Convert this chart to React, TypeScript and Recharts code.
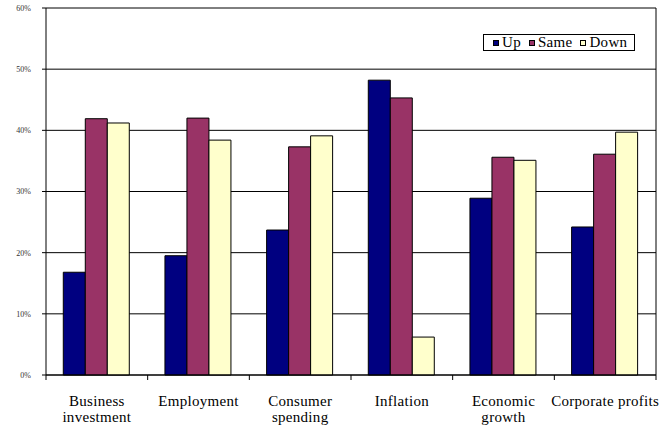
import {
  BarChart,
  Bar,
  XAxis,
  YAxis,
  CartesianGrid,
} from "recharts";

const categories = [
  "Business\ninvestment",
  "Employment",
  "Consumer\nspending",
  "Inflation",
  "Economic\ngrowth",
  "Corporate profits",
];
const up = [16.8, 19.5, 23.7, 48.2, 28.9, 24.2];
const same = [41.9, 42.0, 37.3, 45.3, 35.6, 36.1];
const down = [41.2, 38.4, 39.1, 6.2, 35.1, 39.7];
const yTicks = [0, 10, 20, 30, 40, 50, 60];

const series = [
  { key: "up", name: "Up", color: "#000080" },
  { key: "same", name: "Same", color: "#993366" },
  { key: "down", name: "Down", color: "#FFFFCC" },
];

const data = categories.map((c, i) => ({
  name: c,
  up: up[i],
  same: same[i],
  down: down[i],
}));

const FONT = "'Times New Roman', 'Liberation Serif', 'DejaVu Serif', serif";

const CategoryTick = (props: any) => {
  const { x, y, payload, index, width, visibleTicksCount } = props;
  const step = width / visibleTicksCount;
  const lines = String(payload.value).split("\n");
  const axisY = y - 7;
  return (
    <g>
      <line x1={x - step / 2} x2={x - step / 2} y1={axisY} y2={axisY + 5} stroke="#000" />
      {index === visibleTicksCount - 1 && (
        <line x1={x + step / 2} x2={x + step / 2} y1={axisY} y2={axisY + 5} stroke="#000" />
      )}
      <text
        x={x}
        y={y}
        textAnchor="middle"
        fontFamily={FONT}
        fontSize={15}
        letterSpacing={0.3}
        fill="#000"
      >
        {lines.map((l, i) => (
          <tspan key={i} x={x} dy={i === 0 ? 24 : 16}>
            {l}
          </tspan>
        ))}
      </text>
    </g>
  );
};

// legend box sits inside the plot, top right
const LegendBox = () => (
  <div
    style={{
      position: "absolute",
      top: 34,
      left: 483,
      width: 152,
      height: 17,
      boxSizing: "border-box",
      display: "flex",
      alignItems: "center",
      gap: 8,
      paddingLeft: 9,
      border: "1px solid #000",
      background: "#fff",
      fontFamily: FONT,
      fontSize: 15,
      letterSpacing: 0.3,
      color: "#000",
      lineHeight: "15px",
    }}
  >
    {series.map((s) => (
      <span key={s.key} style={{ display: "flex", alignItems: "center", gap: 3 }}>
        <span
          style={{
            width: 4,
            height: 4,
            background: s.color,
            border: "1px solid #000",
            display: "inline-block",
          }}
        />
        {s.name}
      </span>
    ))}
  </div>
);

export default function App() {
  return (
    <div style={{ position: "relative", width: 671, height: 425, background: "#fff" }}>
      <style>{`body{margin:0}`}</style>
      <BarChart
        width={671}
        height={425}
        data={data}
        margin={{ top: 8, right: 0, left: 0, bottom: 0 }}
        barGap={0}
        barCategoryGap="17%"
      >
        <CartesianGrid vertical={false} stroke="#000" yAxisId="left" />
        <XAxis
          dataKey="name"
          height={50}
          interval={0}
          tickLine={false}
          tickSize={5}
          tickMargin={2}
          axisLine={{ stroke: "#000" }}
          tick={<CategoryTick />}
        />
        <YAxis
          yAxisId="left"
          width={46}
          domain={[0, 60]}
          ticks={yTicks}
          tickFormatter={(v) => `${v}%`}
          tickSize={4}
          tickMargin={11}
          tickLine={{ stroke: "#000" }}
          axisLine={{ stroke: "#000" }}
          tick={{ fontSize: 8, fontFamily: FONT, fill: "#333" }}
        />
        <YAxis
          yAxisId="right"
          orientation="right"
          width={15}
          domain={[0, 60]}
          tick={false}
          tickLine={false}
          axisLine={{ stroke: "#000" }}
        />
        {series.map((s) => (
          <Bar
            key={s.key}
            yAxisId="left"
            dataKey={s.key}
            name={s.name}
            fill={s.color}
            stroke="#000"
            strokeWidth={1}
            isAnimationActive={false}
          />
        ))}
      </BarChart>
      <LegendBox />
    </div>
  );
}
